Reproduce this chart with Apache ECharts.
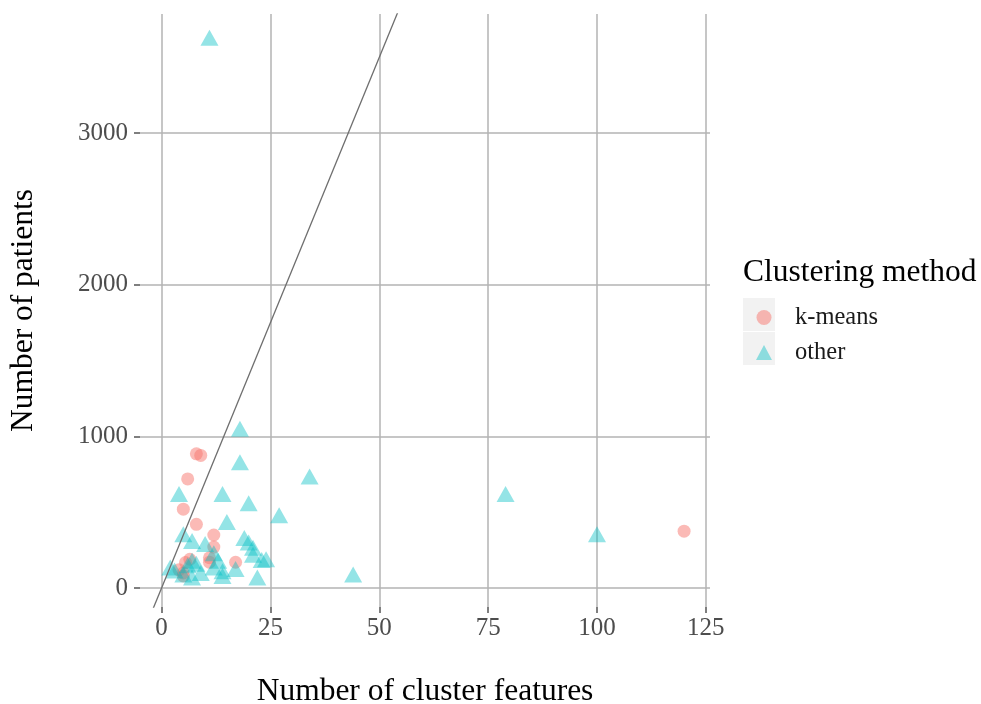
<!DOCTYPE html>
<html>
<head>
<meta charset="utf-8">
<script src="https://cdn.jsdelivr.net/npm/echarts@6/dist/echarts.min.js"></script>
<style>
  html, body { margin: 0; padding: 0; background: #fff; }
  #chart { width: 981px; height: 704px; }
</style>
</head>
<body>
<div id="chart"></div>
<script>
var fontName = "Liberation Serif";

// k-means studies: [features, patients]
var kmeansX = [8, 9, 6, 5, 8, 12, 12, 11, 6.5, 5.5, 11, 17, 4, 5, 5, 120];
var kmeansY = [885, 875, 720, 520, 420, 350, 270, 200, 190, 168, 170, 170, 120, 100, 80, 375];

// other clustering methods
var otherX = [11, 18, 18, 34, 4, 14, 79, 20, 27, 15, 5, 100, 44, 7, 10, 19, 20, 21, 21, 24, 23,
              12, 13, 8, 6, 2, 3, 17, 14, 14, 22, 7, 9, 12, 5, 7];
var otherY = [3630, 1050, 830, 735, 620, 620, 620, 560, 480, 435, 355, 355, 90, 310, 290, 330, 300,
              265, 220, 190, 185, 230, 180, 160, 150, 135, 115, 125, 110, 80, 70, 70, 100, 135, 90, 180];

// reference line (end points)
var lineX = [-3, 56];
var lineY = [-210, 3920];

var xTicks = [0, 25, 50, 75, 100, 125];
var yTicks = [0, 1000, 2000, 3000];

function pairs(xs, ys) {
    var out = [];
    for (var i = 0; i < xs.length; i++) {
        out.push([xs[i], ys[i]]);
    }
    return out;
}

var gridColor = "#b3b3b3";

var chart = echarts.init(document.getElementById("chart"));
chart.setOption({
    animation: false,
    backgroundColor: "#ffffff",
    textStyle: { fontFamily: fontName },
    grid: { left: 140, right: 271, top: 14, bottom: 97, containLabel: false, outerBoundsMode: "none" },
    xAxis: {
        type: "value",
        min: -4.95,
        max: 125.95,
        name: "Number of cluster features",
        nameLocation: "middle",
        nameGap: 69,
        nameTextStyle: { fontFamily: fontName, fontSize: 31.5, color: "#000" },
        axisLine: { show: false, onZero: false },
        axisTick: { show: true, length: 6, customValues: xTicks, lineStyle: { color: "#555", width: 1.5 } },
        axisLabel: {
            customValues: xTicks, fontFamily: fontName, fontSize: 25, color: "#4d4d4d", margin: 9,
            formatter: function(v) { return String(v); }
        },
        splitLine: { show: true, lineStyle: { color: gridColor, width: 1.5 } }
    },
    yAxis: {
        type: "value",
        min: -125,
        max: 3786,
        name: "Number of patients",
        nameLocation: "middle",
        nameGap: 100,
        nameTextStyle: { fontFamily: fontName, fontSize: 31.5, color: "#000" },
        axisLine: { show: false, onZero: false },
        axisTick: { show: true, length: 6, customValues: yTicks, lineStyle: { color: "#555", width: 1.5 } },
        axisLabel: {
            customValues: yTicks, fontFamily: fontName, fontSize: 25, color: "#4d4d4d", margin: 12,
            formatter: function(v) { return String(v); }
        },
        splitLine: { show: true, lineStyle: { color: gridColor, width: 1.5 } }
    },
    legend: {
        orient: "vertical",
        left: 751,
        top: 300,
        itemWidth: 16,
        itemHeight: 15,
        itemGap: 10,
        data: ["k-means", "other"],
        textStyle: { fontFamily: fontName, fontSize: 24.5, color: "#1a1a1a", padding: [0, 0, 0, 18], lineHeight: 24 }
    },
    graphic: [
        { type: "rect", left: 743, top: 298, shape: { width: 32, height: 33 }, style: { fill: "#f2f2f2" }, z: -1 },
        { type: "rect", left: 743, top: 332, shape: { width: 32, height: 33 }, style: { fill: "#f2f2f2" }, z: -1 },
        { type: "text", left: 743, top: 257, style: { text: "Clustering method", font: "31.5px " + fontName, fill: "#000" } }
    ],
    series: [
        {
            name: "k-means",
            type: "scatter",
            symbol: "circle",
            symbolSize: 13,
            itemStyle: { color: "#F8766D", opacity: 0.5 },
            data: pairs(kmeansX, kmeansY),
            z: 3
        },
        {
            name: "other",
            type: "scatter",
            symbol: "triangle",
            symbolSize: [18, 16],
            itemStyle: { color: "#00BFC4", opacity: 0.42 },
            data: pairs(otherX, otherY),
            z: 3
        },
        {
            name: "ref",
            type: "line",
            symbol: "none",
            clip: true,
            lineStyle: { color: "#6e6e6e", width: 1.3 },
            data: pairs(lineX, lineY),
            z: 4,
            silent: true
        }
    ]
});
</script>
</body>
</html>
